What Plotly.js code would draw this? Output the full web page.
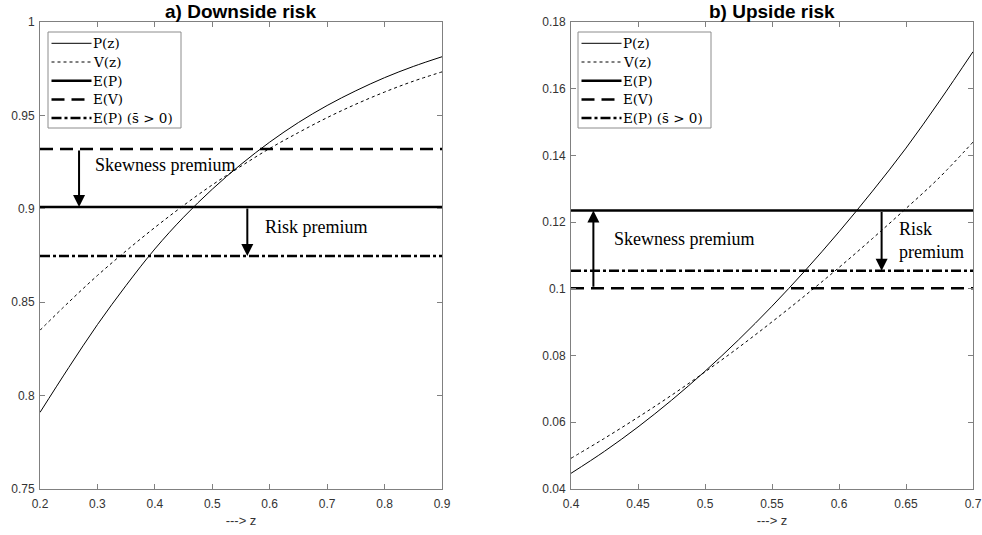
<!DOCTYPE html>
<html>
<head>
<meta charset="utf-8">
<script src="https://cdn.plot.ly/plotly-3.0.1.min.js"></script>
<style>html,body{margin:0;padding:0;background:#fff;}#chart{width:982px;height:535px;}</style>
</head>
<body>
<div id="chart"></div>
<script>
// ----- Panel a) Downside risk -----
const zLeft = [0.2,0.25,0.3,0.35,0.4,0.45,0.5,0.55,0.6,0.65,0.7,0.75,0.8,0.85,0.9];
const pLeft = [0.791,0.815,0.838,0.859,0.8785,0.8955,0.9105,0.9238,0.9357,0.9462,0.9553,0.9632,0.9702,0.9762,0.9814];
const vLeft = [0.835,0.850,0.8643,0.8775,0.890,0.9018,0.9128,0.9228,0.9323,0.9408,0.9488,0.9560,0.9625,0.9683,0.9733];
const levelsLeft = {EP: 0.901, EV: 0.932, EPs: 0.8747};
const arrowZLeft = {skew: 0.268, risk: 0.561};
const labelPosLeft = {skew: [0.2918, 0.9234], risk: [0.5878, 0.8904]};

// ----- Panel b) Upside risk -----
const zRight = [0.4,0.425,0.45,0.475,0.5,0.525,0.55,0.575,0.6,0.625,0.65,0.675,0.7];
const pRight = [0.0447,0.0513,0.0586,0.0666,0.0753,0.0847,0.0948,0.1056,0.1171,0.1293,0.1422,0.1563,0.1711];
const vRight = [0.0492,0.0552,0.0615,0.0681,0.0751,0.0824,0.0901,0.0981,0.1064,0.1151,0.1241,0.1334,0.1440];
const levelsRight = {EP: 0.1235, EV: 0.1002, EPs: 0.1054};
const arrowZRight = {skew: 0.4167, risk: 0.6318};
const labelPosRight = {skew: [0.4304, 0.1149], risk: [0.643, 0.1145]};

const legendNames = ['P(z)', 'V(z)', 'E(P)', 'E(V)', 'E(P) (s̄ > 0)'];
const titles = ['a) Downside risk', 'b) Upside risk'];
const xTicksLeft = [0.2,0.3,0.4,0.5,0.6,0.7,0.8,0.9];
const yTicksLeft = [0.75,0.8,0.85,0.9,0.95,1];
const xTicksRight = [0.4,0.45,0.5,0.55,0.6,0.65,0.7];
const yTicksRight = [0.04,0.06,0.08,0.1,0.12,0.14,0.16,0.18];

const styleList = [
  {color:'#000', width:1, dash:'solid'},
  {color:'#000', width:1, dash:'3px,3px'},
  {color:'#000', width:2.5, dash:'solid'},
  {color:'#000', width:2.5, dash:'13px,7px'},
  {color:'#000', width:2.5, dash:'10px,3px,3px,3px'}
];

function panelTraces(z, p, v, lv, xa, ya) {
  const xr = [z[0], z[z.length-1]];
  const ys = [p, v, [lv.EP, lv.EP], [lv.EV, lv.EV], [lv.EPs, lv.EPs]];
  return ys.map((y, i) => ({
    x: i < 2 ? z : xr, y: y, mode:'lines', name:legendNames[i],
    line: Object.assign(i < 2 ? {shape:'spline'} : {}, styleList[i]),
    xaxis:xa, yaxis:ya, showlegend:false
  }));
}

const data = [].concat(
  panelTraces(zLeft, pLeft, vLeft, levelsLeft, 'x', 'y'),
  panelTraces(zRight, pRight, vRight, levelsRight, 'x2', 'y2')
);

function arrow(xr, yr, x, yFrom, yTo) {
  return {xref:xr, yref:yr, axref:xr, ayref:yr, x:x, y:yTo, ax:x, ay:yFrom, text:'',
          showarrow:true, arrowhead:2, arrowsize:1.2, arrowwidth:2, arrowcolor:'#000', standoff:0, startstandoff:0};
}
const labelFont = {family:'Liberation Serif, Times New Roman, serif', size:18, color:'#000'};
function label(xr, yr, pos, text) {
  return {xref:xr, yref:yr, x:pos[0], y:pos[1], text:text, showarrow:false, xanchor:'left', yanchor:'middle', align:'left', font:labelFont};
}

const W = 982, H = 535;
const PX = x => x / W, PY = y => (H - y) / H;
const xdomL = [PX(40), PX(442)], xdomR = [PX(571), PX(973)];
const ydom = [PY(489), PY(22)];

const titleFont = {family:'Liberation Sans, Arial, sans-serif', size:19, color:'#000'};
const annotations = [
  arrow('x','y', arrowZLeft.skew, levelsLeft.EV, levelsLeft.EP),
  arrow('x','y', arrowZLeft.risk, levelsLeft.EP, levelsLeft.EPs),
  arrow('x2','y2', arrowZRight.skew, levelsRight.EV, levelsRight.EP),
  arrow('x2','y2', arrowZRight.risk, levelsRight.EP, levelsRight.EPs),
  label('x','y', labelPosLeft.skew, 'Skewness premium'),
  label('x','y', labelPosLeft.risk, 'Risk premium'),
  label('x2','y2', labelPosRight.skew, 'Skewness premium'),
  label('x2','y2', labelPosRight.risk, 'Risk<br>premium'),
  {xref:'paper', yref:'paper', x:(xdomL[0]+xdomL[1])/2, y:PY(11), text:'<b>'+titles[0]+'</b>', showarrow:false, xanchor:'center', yanchor:'middle', font:titleFont},
  {xref:'paper', yref:'paper', x:(xdomR[0]+xdomR[1])/2, y:PY(11), text:'<b>'+titles[1]+'</b>', showarrow:false, xanchor:'center', yanchor:'middle', font:titleFont}
];

// Legend boxes (MATLAB style), built from legendNames and styleList
const shapes = [];
const legendFont = {family:'DejaVu Serif, Liberation Serif, serif', size:13.5, color:'#000'};
function addLegend(left) {
  const top = 32, width = 133, rowH = 18.7, firstRow = 43.3;
  shapes.push({type:'rect', xref:'paper', yref:'paper', x0:PX(left), x1:PX(left+width), y0:PY(top), y1:PY(top+96),
    line:{color:'#8c8c8c', width:1}, fillcolor:'#fff', layer:'above'});
  legendNames.forEach((name, i) => {
    const yc = firstRow + i * rowH;
    shapes.push({type:'line', xref:'paper', yref:'paper', x0:PX(left+3.5), x1:PX(left+43.5), y0:PY(yc), y1:PY(yc),
      line:styleList[i], layer:'above'});
    annotations.push({xref:'paper', yref:'paper', x:PX(left+44), y:PY(yc), text:name, showarrow:false,
      xanchor:'left', yanchor:'middle', font:legendFont, borderpad:0});
  });
}
addLegend(48);
addLegend(578);

const tickFont = {family:'Liberation Sans, Arial, sans-serif', size:12, color:'#333'};
function xAxis(dom, ticks, range, anchor) {
  return {domain:dom, range:range, anchor:anchor, tickmode:'array', tickvals:ticks, ticktext:ticks.map(String),
    ticks:'inside', ticklen:5, tickcolor:'#808080', showline:true, linecolor:'#808080', linewidth:1, mirror:'ticks',
    showgrid:false, zeroline:false, tickfont:tickFont, ticklabelstandoff:4,
    title:{text:'---> z', font:{family:'Liberation Sans, Arial, sans-serif', size:13, color:'#333'}, standoff:5}};
}
function yAxis(dom, ticks, range, anchor) {
  return {domain:dom, range:range, anchor:anchor, tickmode:'array', tickvals:ticks, ticktext:ticks.map(String),
    ticks:'inside', ticklen:5, tickcolor:'#808080', showline:true, linecolor:'#808080', linewidth:1, mirror:'ticks',
    showgrid:false, zeroline:false, tickfont:tickFont, ticklabelstandoff:2};
}

const layout = {
  width:W, height:H, margin:{l:0, r:0, t:0, b:0}, paper_bgcolor:'#fff', plot_bgcolor:'#fff',
  showlegend:false,
  xaxis: xAxis(xdomL, xTicksLeft, [0.2, 0.9], 'y'),
  yaxis: yAxis(ydom, yTicksLeft, [0.75, 1], 'x'),
  xaxis2: xAxis(xdomR, xTicksRight, [0.4, 0.7], 'y2'),
  yaxis2: yAxis(ydom, yTicksRight, [0.04, 0.18], 'x2'),
  shapes: shapes,
  annotations: annotations
};

Plotly.newPlot('chart', data, layout, {displayModeBar:false, staticPlot:true});
</script>
</body>
</html>
